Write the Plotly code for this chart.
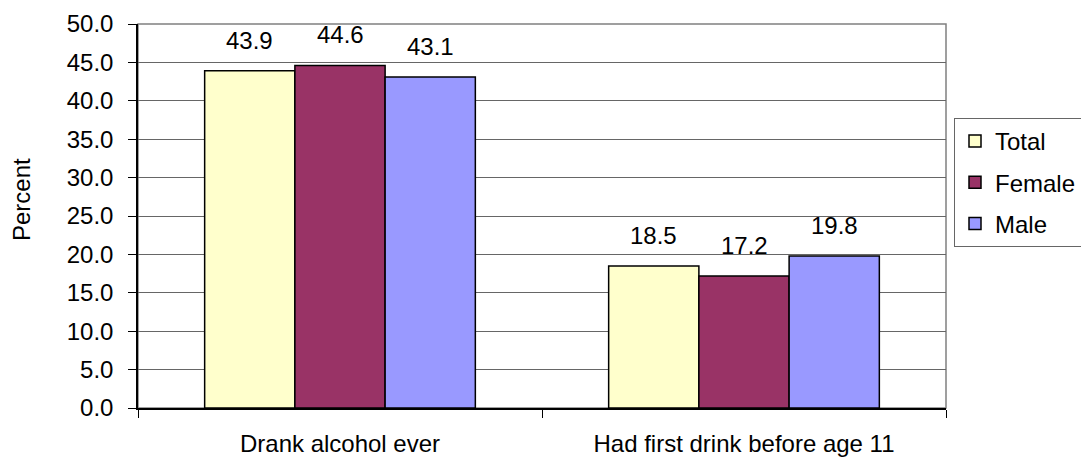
import plotly.graph_objects as go

categories = ["Drank alcohol ever", "Had first drink before age 11"]
series_names = ["Total", "Female", "Male"]
total = [43.9, 18.5]
female = [44.6, 17.2]
male = [43.1, 19.8]
colors = ["#FFFFCC", "#993366", "#9999FF"]
y_ticks = [0, 5, 10, 15, 20, 25, 30, 35, 40, 45, 50]

FONT = "Liberation Sans, Arial, sans-serif"
FS = 24
fig = go.Figure()
all_series = [total, female, male]
for i, (name, vals) in enumerate(zip(series_names, all_series)):
    fig.add_trace(go.Bar(
        x=categories, y=vals, name=name, legendgroup=name,
        marker=dict(color=colors[i], line=dict(color="black", width=1.5)),
    ))

bargap = 0.33
bw = (1 - bargap) / 3
annotations = []
for i, vals in enumerate(all_series):
    for j, v in enumerate(vals):
        annotations.append(dict(
            x=j + (i - 1) * bw, y=v, xref="x", yref="y",
            text=f"{v:.1f}", showarrow=False, yanchor="bottom", yshift=15,
            font=dict(size=FS, color="black", family=FONT),
        ))
annotations.append(dict(
    x=(22 - 138) / 808, y=1 - (200 - 24) / 384, xref="paper", yref="paper",
    xanchor="center", yanchor="middle",
    text="Percent", textangle=-90, showarrow=False,
    font=dict(size=FS, color="black", family=FONT),
))

fig.update_layout(
    width=1081, height=457,
    margin=dict(l=138, r=135, t=24, b=49, autoexpand=False),
    paper_bgcolor="white", plot_bgcolor="white",
    font=dict(family=FONT, size=FS, color="black"),
    barmode="group", bargap=bargap, bargroupgap=0,
    showlegend=True,
    legend=dict(
        xref="container", yref="container", x=954 / 1081, y=1 - 118 / 457,
        xanchor="left", yanchor="top",
        bordercolor="#666666", borderwidth=1, bgcolor="white",
        font=dict(size=FS, family=FONT, color="black"),
        tracegroupgap=7, traceorder="grouped",
    ),
    annotations=annotations,
    shapes=[dict(type="rect", xref="paper", yref="paper", x0=0, x1=1, y0=0, y1=1,
                 line=dict(color="#808080", width=1.5), layer="below")],
)
fig.update_xaxes(
    type="category", showline=True, linecolor="black", linewidth=1.5,
    ticks="outside", tickson="boundaries", ticklen=8, tickcolor="black",
    showgrid=False, ticklabelstandoff=13,
    tickfont=dict(size=FS, family=FONT, color="black"),
)
fig.update_yaxes(
    range=[0, 50], tickvals=y_ticks, tickformat=".1f",
    showline=True, linecolor="black", linewidth=1.5,
    ticks="outside", ticklen=8, tickcolor="black",
    showgrid=True, gridcolor="#666666", gridwidth=1, zeroline=False,
    ticklabelstandoff=10,
    tickfont=dict(size=FS, family=FONT, color="black"),
)
fig.write_html("out.html", config={"displayModeBar": False},
               post_script="document.body.style.margin='0';document.body.style.padding='0';")
